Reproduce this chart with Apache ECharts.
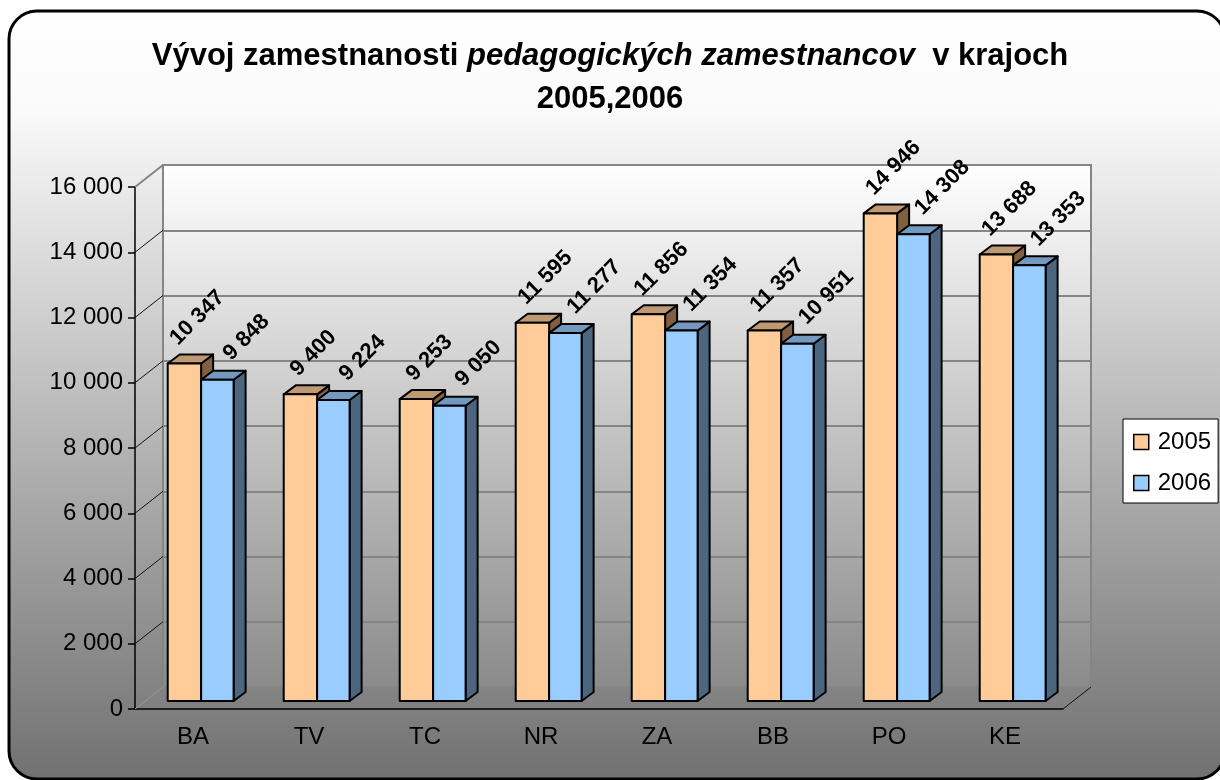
<!DOCTYPE html>
<html>
<head>
<meta charset="utf-8">
<script src="https://cdn.jsdelivr.net/npm/echarts@6/dist/echarts.min.js"></script>
<style>
  html, body { margin: 0; padding: 0; background: #fff; }
  #chart { width: 1220px; height: 780px; }
</style>
</head>
<body>
<div id="chart"></div>
<script>
// data
var categories = ['BA', 'TV', 'TC', 'NR', 'ZA', 'BB', 'PO', 'KE'];
var values2005 = [10347, 9400, 9253, 11595, 11856, 11357, 14946, 13688];
var values2006 = [9848, 9224, 9050, 11277, 11354, 10951, 14308, 13353];
var yTicks = [0, 2000, 4000, 6000, 8000, 10000, 12000, 14000, 16000];

var FONT = '"Liberation Sans", Arial, sans-serif';
// front grid and the depth shift of the back wall
var G = { left: 135, right: 157, top: 187, bottom: 71 };
var DEPTH = [28, -22];
var BAR_DEPTH = [12, -9];
var LIFT = 8;

var measure = document.createElement('canvas').getContext('2d');
measure.font = 'bold 22px ' + FONT;

function fmt(v) {
  return String(v).replace(/\B(?=(\d{3})+(?!\d))/g, ' ');
}

// 3D bar: front face, top, side, rotated value label
function barItem(fromF, toF, front, top, side, labelShift) {
  return function (params, api) {
    var i = api.value(0), v = api.value(1);
    var base = api.coord([i, 0]);
    var peak = api.coord([i, v]);
    var bw = api.size([1, 0])[0];
    var x0 = base[0] + fromF * bw, x1 = base[0] + toF * bw;
    var y0 = base[1] - LIFT, y1 = peak[1] - LIFT;
    var dx = BAR_DEPTH[0], dy = BAR_DEPTH[1];
    var ln = { stroke: '#000', lineWidth: 2, lineJoin: 'round' };
    var text = fmt(v);
    var L = measure.measureText(text).width;
    return {
      type: 'group',
      children: [
        { type: 'polygon', shape: { points: [[x1, y1], [x1 + dx, y1 + dy], [x1 + dx, y0 + dy], [x1, y0]] },
          style: Object.assign({ fill: side }, ln) },
        { type: 'polygon', shape: { points: [[x0, y1], [x0 + dx, y1 + dy], [x1 + dx, y1 + dy], [x1, y1]] },
          style: Object.assign({ fill: top }, ln) },
        { type: 'rect', shape: { x: x0, y: y1, width: x1 - x0, height: y0 - y1 },
          style: Object.assign({ fill: front }, ln) },
        { type: 'text',
          x: (x0 + x1) / 2 + 10 + labelShift[0],
          y: y1 - 23 - (L + 16) * 0.354 + labelShift[1],
          rotation: Math.PI / 4,
          style: { text: text, fill: '#000', font: 'bold 22px ' + FONT, align: 'center', verticalAlign: 'middle' } }
      ]
    };
  };
}

// side wall tick slants + floor edges
function wallItem(params, api) {
  var v = api.value(1);
  var cs = params.coordSys;
  var p = api.coord([0, v]);
  var x = cs.x;
  var kids = [];
  if (v === yTicks[yTicks.length - 1]) {
    kids.push({ type: 'line', shape: { x1: x, y1: p[1], x2: x + DEPTH[0], y2: p[1] + DEPTH[1] },
      style: { stroke: '#858585', lineWidth: 2 } });
  } else if (v === 0) {
    kids.push({ type: 'line', shape: { x1: x, y1: p[1], x2: x + DEPTH[0], y2: p[1] + DEPTH[1] },
      style: { stroke: '#9a9a9a', lineWidth: 1 } });
    kids.push({ type: 'line', shape: { x1: x + cs.width, y1: p[1], x2: x + cs.width + DEPTH[0], y2: p[1] + DEPTH[1] },
      style: { stroke: '#111', lineWidth: 1 } });
  } else {
    kids.push({ type: 'line', shape: { x1: x, y1: p[1], x2: x + DEPTH[0], y2: p[1] + DEPTH[1] },
      style: { stroke: '#111', lineWidth: 1 } });
  }
  return { type: 'group', children: kids };
}

var myChart = echarts.init(document.getElementById('chart'));

var option = {
  backgroundColor: '#fff',
  animation: false,
  textStyle: { fontFamily: FONT },
  graphic: [{
    type: 'rect', z: -10, silent: true,
    shape: { x: 9, y: 11, width: 1216, height: 768, r: 28 },
    style: {
      fill: new echarts.graphic.LinearGradient(0, 0, 0, 1, [
        { offset: 0, color: '#ffffff' },
        { offset: 0.13, color: '#fafafa' },
        { offset: 0.55, color: '#b6b6b6' },
        { offset: 1, color: '#717171' }
      ]),
      stroke: '#000', lineWidth: 3
    }
  }],
  title: [{
    left: 'center', top: 41, padding: 0,
    text: '{n|Vývoj zamestnanosti }{i|pedagogických zamestnancov}{n|  v krajoch}',
    textStyle: {
      rich: {
        n: { fontFamily: FONT, fontSize: 31, fontWeight: 'bold', color: '#000' },
        i: { fontFamily: FONT, fontSize: 31, fontWeight: 'bold', fontStyle: 'italic', color: '#000' }
      }
    }
  }, {
    left: 'center', top: 84, padding: 0,
    text: '2005,2006',
    textStyle: { fontFamily: FONT, fontSize: 31, fontWeight: 'bold', color: '#000' }
  }],
  legend: {
    data: ['2005', '2006'],
    orient: 'vertical',
    left: 1123, top: 419,
    padding: [11, 7, 8, 10],
    itemGap: 17,
    itemWidth: 15, itemHeight: 15,
    icon: 'rect',
    itemStyle: { borderColor: '#000', borderWidth: 1.5 },
    backgroundColor: '#fff',
    borderColor: '#000', borderWidth: 1,
    textStyle: { fontFamily: FONT, fontSize: 24, color: '#000', padding: [0, 0, 0, 4] }
  },
  grid: [
    { left: G.left, right: G.right, top: G.top, bottom: G.bottom },
    {
      left: G.left + DEPTH[0], right: G.right - DEPTH[0], top: G.top + DEPTH[1], bottom: G.bottom - DEPTH[1],
      show: true, borderColor: '#858585', borderWidth: 2,
      backgroundColor: new echarts.graphic.LinearGradient(0, 0, 0, 1, [
        { offset: 0, color: '#ffffff' },
        { offset: 1, color: '#8a8a8a' }
      ])
    }
  ],
  xAxis: [{
    gridIndex: 0, type: 'category', data: categories,
    axisLine: { lineStyle: { color: '#000', width: 1.5 } },
    axisTick: { length: 9, lineStyle: { color: '#000', width: 1.5 } },
    axisLabel: { margin: 16, fontSize: 24, color: '#000', fontFamily: FONT },
    splitLine: { show: false }
  }, {
    gridIndex: 1, type: 'category', data: categories,
    axisLine: { show: false }, axisTick: { show: false }, axisLabel: { show: false }
  }],
  yAxis: [{
    gridIndex: 0, type: 'value', min: 0, max: 16000, interval: 2000,
    axisLine: { show: true, lineStyle: { color: '#000', width: 1.5 } },
    axisTick: { show: true, length: 7, lineStyle: { color: '#000', width: 1.5 } },
    axisLabel: { margin: 12, fontSize: 24, color: '#000', fontFamily: FONT, formatter: fmt },
    splitLine: { show: false }
  }, {
    gridIndex: 1, type: 'value', min: 0, max: 16000, interval: 2000,
    axisLine: { show: false }, axisTick: { show: false }, axisLabel: { show: false },
    splitLine: { show: true, lineStyle: { color: '#858585', width: 2 } }
  }],
  series: [{
    name: 'walls', type: 'custom', xAxisIndex: 0, yAxisIndex: 0, z: 1, silent: true,
    renderItem: wallItem,
    data: yTicks.map(function (v) { return [0, v]; })
  }, {
    name: '2005', type: 'custom', xAxisIndex: 0, yAxisIndex: 0, z: 3,
    itemStyle: { color: '#FFCC99' },
    renderItem: barItem(-0.218, 0.07, '#FFCC99', '#BF9973', '#806040', [3, 7]),
    data: values2005.map(function (v, i) { return [i, v]; })
  }, {
    name: '2006', type: 'custom', xAxisIndex: 0, yAxisIndex: 0, z: 3,
    itemStyle: { color: '#99CCFF' },
    renderItem: barItem(0.07, 0.35, '#99CCFF', '#7399BF', '#4D6680', [19, 6]),
    data: values2006.map(function (v, i) { return [i, v]; })
  }]
};

myChart.setOption(option);
</script>
</body>
</html>
